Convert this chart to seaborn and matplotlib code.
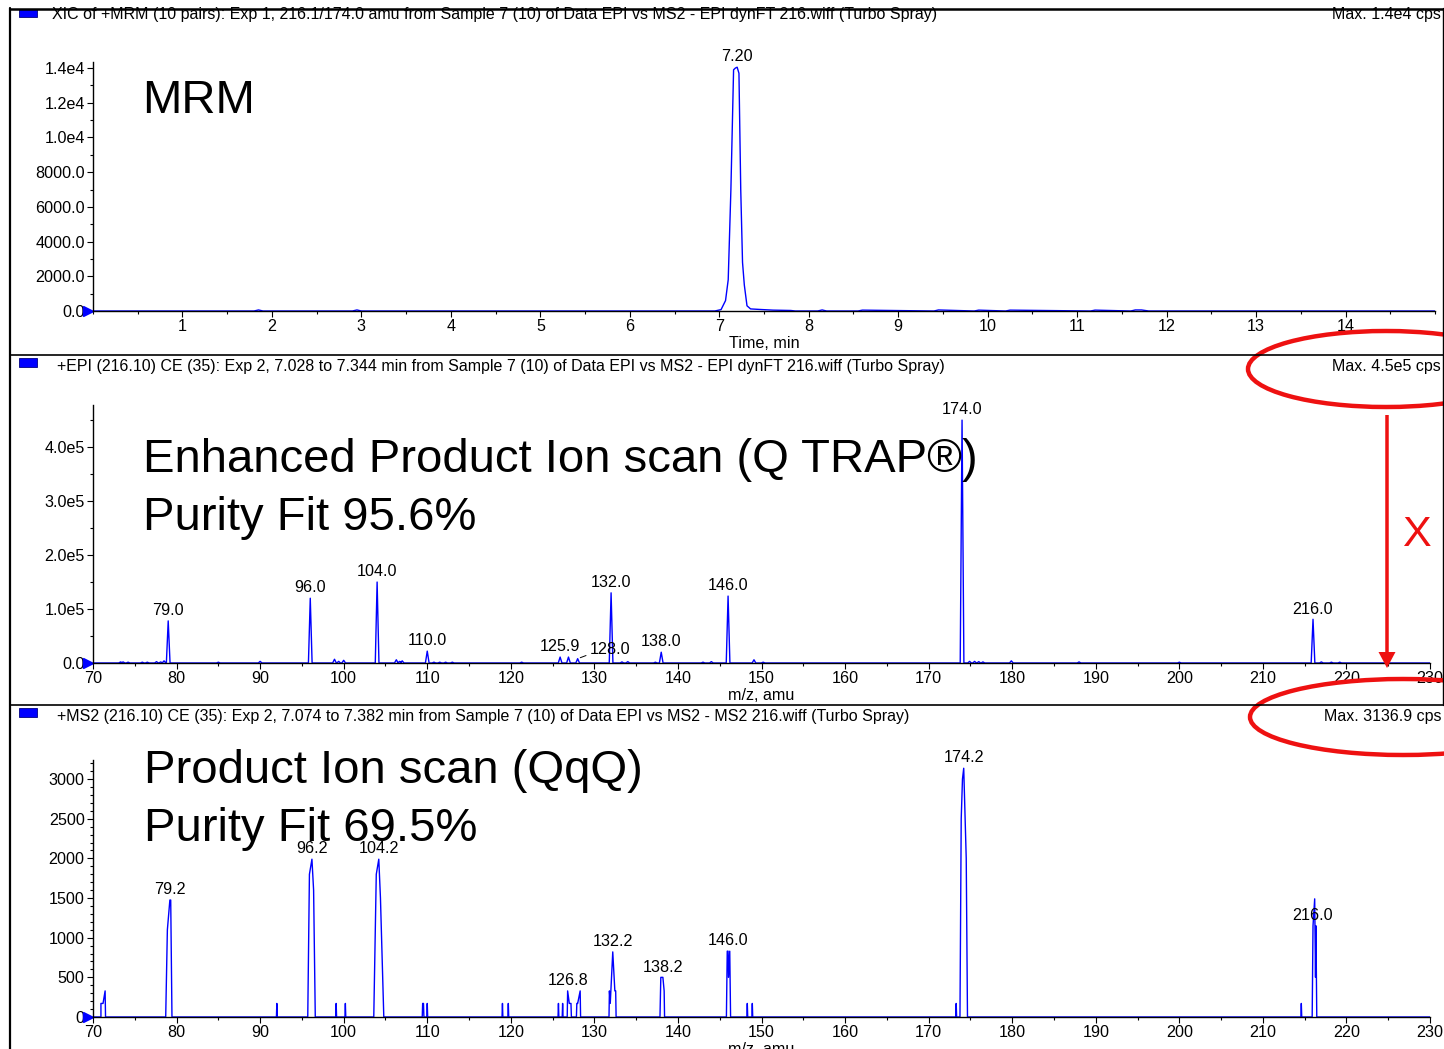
import numpy as np
import pandas as pd
import matplotlib
matplotlib.use("Agg")
import matplotlib.pyplot as plt
from matplotlib.patches import Ellipse, Rectangle, FancyArrow
from matplotlib.ticker import MultipleLocator
import seaborn as sns

# ---------------- data ----------------
# XIC of the 216.1/174.0 MRM transition
mrm_time = [0.0, 1.80, 1.85, 1.90, 2.90, 2.95, 3.00, 6.95, 7.02, 7.07, 7.10, 7.13,
            7.16, 7.18, 7.20, 7.22, 7.24, 7.26, 7.28, 7.31, 7.35, 7.45, 7.60, 7.80,
            7.85, 8.10, 8.15, 8.20, 8.55, 8.60, 9.40, 9.45, 9.85, 9.90, 10.20, 10.25,
            11.15, 11.20, 11.60, 11.65, 11.72, 11.80, 15.0]
mrm_intensity = [0, 0, 60, 0, 0, 60, 0, 0, 80, 600, 1800, 7000,
                 13900, 14000, 14050, 13700, 7000, 2800, 1500, 300, 120, 90, 50, 30,
                 0, 0, 60, 0, 0, 50, 0, 60, 0, 50, 0, 50,
                 0, 50, 0, 60, 60, 0, 0]

# EPI spectrum: centroid m/z and intensity (cps)
epi_mz = [73.3, 73.6, 74.2, 75.9, 76.5, 77.6, 78.1, 78.5, 79.0, 85.0, 90.0, 96.0,
          98.9, 99.4, 100.0, 104.0, 106.3, 106.7, 107.0, 110.0, 110.8, 111.5, 112.2,
          113.0, 121.3, 125.9, 126.9, 128.0, 132.0, 133.3, 134.0, 137.3, 138.0, 143.0,
          144.0, 146.0, 149.1, 150.2, 174.0, 174.9, 175.5, 176.0, 176.5, 179.9, 188.0,
          200.0, 216.0, 217.0, 218.2, 219.2]
epi_intensity = [2000, 2000, 1500, 1500, 1500, 2500, 2000, 4000, 78000, 1500, 3000, 120000,
                 7000, 3000, 5000, 150000, 6000, 3000, 4000, 22000, 1500, 1500, 1500,
                 1500, 1500, 11000, 11000, 8000, 130000, 2000, 2500, 1500, 20000, 1500,
                 2500, 124000, 6000, 1500, 450000, 3000, 3000, 2500, 2000, 4000, 2000,
                 1500, 81000, 2000, 1500, 1500]
epi_labels = ["79.0", "96.0", "104.0", "110.0", "125.9", "128.0", "132.0", "138.0",
              "146.0", "174.0", "216.0"]

# MS2 spectrum profile (m/z, cps)
ms2_mz = [70.0, 70.95, 70.95, 71.2, 71.45, 71.5,
          78.7, 78.9, 79.2, 79.3, 79.45,
          91.95, 92.0, 92.05,
          95.7, 95.9, 96.2, 96.4, 96.6,
          99.05, 99.1, 99.15, 100.15, 100.2, 100.25,
          103.6, 103.9, 104.2, 104.4, 104.8,
          109.4, 109.45, 109.55, 109.6, 109.95, 110.0, 110.05,
          118.95, 119.0, 119.05, 119.65, 119.7, 119.75,
          125.65, 125.7, 125.75, 126.15, 126.2, 126.25,
          126.75, 126.8, 127.0, 127.2, 127.25,
          127.85, 127.9, 128.0, 128.3, 128.35,
          131.75, 131.8, 131.9, 132.2, 132.45, 132.55, 132.6,
          137.85, 137.95, 138.2, 138.35, 138.4,
          145.8, 145.9, 146.0, 146.05, 146.2, 146.3,
          148.25, 148.3, 148.35, 148.85, 148.9, 148.95,
          173.25, 173.3, 173.35,
          173.75, 173.9, 174.05, 174.2, 174.5, 174.65,
          214.55, 214.6, 214.65,
          215.9, 216.0, 216.2, 216.3, 216.35, 216.45, 230.0]
ms2_intensity = [0, 0, 171, 171, 329, 0,
                 0, 1100, 1475, 1475, 0,
                 0, 171, 0,
                 0, 1800, 1990, 1600, 0,
                 0, 171, 0, 0, 171, 0,
                 0, 1800, 1990, 1500, 0,
                 0, 171, 171, 0, 0, 171, 0,
                 0, 171, 0, 0, 171, 0,
                 0, 171, 0, 0, 171, 0,
                 0, 329, 171, 171, 0,
                 0, 171, 171, 329, 0,
                 0, 329, 171, 821, 329, 329, 0,
                 0, 500, 500, 329, 0,
                 0, 830, 830, 500, 830, 0,
                 0, 171, 0, 0, 171, 0,
                 0, 171, 0,
                 0, 2500, 3000, 3137, 2000, 0,
                 0, 171, 0,
                 0, 1150, 1490, 500, 1150, 0, 0]
ms2_label_mz = [79.2, 96.2, 104.2, 126.8, 132.2, 138.2, 146.0, 174.2, 216.0]
ms2_label_int = [1475, 1990, 1990, 329, 821, 500, 830, 3137, 1150]

mrm_yticks = [0, 2000, 4000, 6000, 8000, 10000, 12000, 14000]
mrm_yticklabels = ["0.0", "2000.0", "4000.0", "6000.0", "8000.0", "1.0e4", "1.2e4", "1.4e4"]
epi_yticks = [0, 100000, 200000, 300000, 400000]
epi_yticklabels = ["0.0", "1.0e5", "2.0e5", "3.0e5", "4.0e5"]
ms2_yticks = [0, 500, 1000, 1500, 2000, 2500, 3000]
ms2_yticklabels = ["0", "500", "1000", "1500", "2000", "2500", "3000"]
mz_ticks = list(range(70, 231, 10))

# ---------------- style ----------------
sns.set_style("ticks")
plt.rcParams["font.family"] = ["Liberation Sans", "DejaVu Sans"]
plt.rcParams["axes.linewidth"] = 1.0
plt.rcParams["text.color"] = "black"
plt.rcParams["axes.labelcolor"] = "black"
plt.rcParams["axes.edgecolor"] = "black"
plt.rcParams["xtick.color"] = "black"
plt.rcParams["ytick.color"] = "black"

W, H = 1444, 1049
fig = plt.figure(figsize=(W / 100, H / 100), dpi=100)


def px_axes(left, top, right, bottom):
    return fig.add_axes([left / W, 1 - bottom / H, (right - left) / W, (bottom - top) / H])


BLUE = "#0000ff"
TICK_FS = 11.6
HEAD_FS = 11.5


def style_axes(ax):
    sns.despine(ax=ax)
    ax.tick_params(axis="both", which="major", direction="out", length=4, width=0.8,
                   labelsize=TICK_FS, pad=2, colors="black")
    ax.tick_params(axis="both", which="minor", direction="out", length=2.5, width=0.8)
    ax.set_facecolor("none")


def stick_profile(mz, inten, hw=0.22):
    xs, ys = [70.0], [0.0]
    for m, h in sorted(zip(mz, inten)):
        xs += [m - hw, m, m + hw]
        ys += [0.0, h, 0.0]
    xs.append(230.0)
    ys.append(0.0)
    return pd.DataFrame({"mz": xs, "cps": ys})


# ---------------- panel 1: MRM XIC ----------------
ax1 = px_axes(93, 62, 1435, 311)
df1 = pd.DataFrame({"time": mrm_time, "cps": mrm_intensity})
sns.lineplot(data=df1, x="time", y="cps", sort=False, estimator=None, color=BLUE,
             lw=1.0, ax=ax1)
ax1.set_xlim(0, 15)
ax1.set_ylim(0, 14350)
ax1.set_xticks(range(1, 15))
ax1.xaxis.set_minor_locator(MultipleLocator(0.5))
ax1.set_yticks(mrm_yticks)
ax1.set_yticklabels(mrm_yticklabels)
ax1.yaxis.set_minor_locator(MultipleLocator(1000))
ax1.set_xlabel("Time, min", fontsize=TICK_FS, labelpad=1)
ax1.set_ylabel("")
style_axes(ax1)
ax1.annotate("7.20", xy=(7.20, 14050), xytext=(0, 2), textcoords="offset points",
             ha="center", va="bottom", fontsize=TICK_FS)

# ---------------- panel 2: EPI ----------------
ax2 = px_axes(93, 405, 1430, 663)
df2 = stick_profile(epi_mz, epi_intensity)
sns.lineplot(data=df2, x="mz", y="cps", sort=False, estimator=None, color=BLUE,
             lw=1.0, ax=ax2)
ax2.set_xlim(70, 230)
ax2.set_ylim(0, 478000)
ax2.set_xticks(mz_ticks)
ax2.xaxis.set_minor_locator(MultipleLocator(5))
ax2.set_yticks(epi_yticks)
ax2.set_yticklabels(epi_yticklabels)
ax2.yaxis.set_minor_locator(MultipleLocator(50000))
ax2.set_xlabel("m/z, amu", fontsize=TICK_FS, labelpad=1)
ax2.set_ylabel("")
style_axes(ax2)
epi_lookup = dict(zip(epi_mz, epi_intensity))
for lab in epi_labels:
    m = float(lab)
    h = epi_lookup[m]
    if lab == "128.0":
        ax2.annotate(lab, xy=(m, h), xytext=(23, 1), textcoords="offset points",
                     ha="center", va="bottom", fontsize=TICK_FS,
                     arrowprops=dict(arrowstyle="-", lw=0.7, color="black",
                                     shrinkA=0, shrinkB=2, relpos=(0.05, 0.25)))
    else:
        ax2.annotate(lab, xy=(m, h), xytext=(0, 2), textcoords="offset points",
                     ha="center", va="bottom", fontsize=TICK_FS)

# ---------------- panel 3: MS2 ----------------
ax3 = px_axes(93, 760, 1430, 1017)
df3 = pd.DataFrame({"mz": ms2_mz, "cps": ms2_intensity})
sns.lineplot(data=df3, x="mz", y="cps", sort=False, estimator=None, color=BLUE,
             lw=1.0, ax=ax3)
ax3.set_xlim(70, 230)
ax3.set_ylim(0, 3241)
ax3.set_xticks(mz_ticks)
ax3.xaxis.set_minor_locator(MultipleLocator(5))
ax3.set_yticks(ms2_yticks)
ax3.set_yticklabels(ms2_yticklabels)
ax3.yaxis.set_minor_locator(MultipleLocator(100))
ax3.set_xlabel("m/z, amu", fontsize=TICK_FS, labelpad=1)
ax3.set_ylabel("")
style_axes(ax3)
for m, h in zip(ms2_label_mz, ms2_label_int):
    ax3.annotate(f"{m:.1f}", xy=(m, h), xytext=(0, 2), textcoords="offset points",
                 ha="center", va="bottom", fontsize=TICK_FS)

# zero-level markers at the left of each y axis
for ax in (ax1, ax2, ax3):
    ax.plot([-0.004], [0], marker=">", ms=7, color=BLUE, transform=ax.get_yaxis_transform(),
            clip_on=False)

# ---------------- frame, headers and overlays ----------------
ov = fig.add_axes([0, 0, 1, 1], zorder=10)
ov.set_xlim(0, W)
ov.set_ylim(H, 0)
ov.axis("off")
ov.patch.set_alpha(0)

ov.plot([10, 10], [8, H], color="black", lw=1.6)
ov.plot([10, W], [8.5, 8.5], color="black", lw=1.8)
ov.plot([1442.5, 1442.5], [8, 705], color="black", lw=1.0)
for yy in (355, 705):
    ov.plot([10, W], [yy, yy], color="black", lw=1.2)

headers = [
    (14, "XIC of +MRM (10 pairs): Exp 1, 216.1/174.0 amu from Sample 7 (10) of Data EPI vs MS2 - EPI dynFT 216.wiff (Turbo Spray)",
     "Max. 1.4e4 cps"),
    (366, "+EPI (216.10) CE (35): Exp 2, 7.028 to 7.344 min from Sample 7 (10) of Data EPI vs MS2 - EPI dynFT 216.wiff (Turbo Spray)",
     "Max. 4.5e5 cps"),
    (716, "+MS2 (216.10) CE (35): Exp 2, 7.074 to 7.382 min from Sample 7 (10) of Data EPI vs MS2 - MS2 216.wiff (Turbo Spray)",
     "Max. 3136.9 cps"),
]
for i, (yc, title, mx) in enumerate(headers):
    ry = 9 if i == 0 else yc - 8
    ov.add_patch(Rectangle((19, ry), 18, 8 if i == 0 else 9, facecolor=BLUE,
                           edgecolor="#000080", lw=0.6))
    ov.text(52 if i == 0 else 57, yc, title, ha="left", va="center", fontsize=HEAD_FS)
    ov.text(1441, yc, mx, ha="right", va="center", fontsize=HEAD_FS)

BIG = 34
ov.text(142, 101, "MRM", ha="left", va="center", fontsize=34)
ov.text(143, 460, "Enhanced Product Ion scan (Q TRAP®)", ha="left", va="center", fontsize=BIG)
ov.text(143, 518, "Purity Fit 95.6%", ha="left", va="center", fontsize=BIG)
ov.text(144, 771, "Product Ion scan (QqQ)", ha="left", va="center", fontsize=BIG)
ov.text(144, 829, "Purity Fit 69.5%", ha="left", va="center", fontsize=BIG)

RED = "#ee1111"
ov.add_patch(Ellipse((1386, 369), 276, 76, fill=False, edgecolor=RED, lw=3.2))
ov.add_patch(Ellipse((1403, 717), 306, 76, fill=False, edgecolor=RED, lw=3.2))
ov.add_patch(FancyArrow(1387, 415, 0, 253, width=3.5, head_width=17, head_length=16,
                        length_includes_head=True, color=RED, lw=0))
ov.text(1416, 535, "X", ha="center", va="center", fontsize=31, color=RED)

fig.savefig("out.png", dpi=100)
